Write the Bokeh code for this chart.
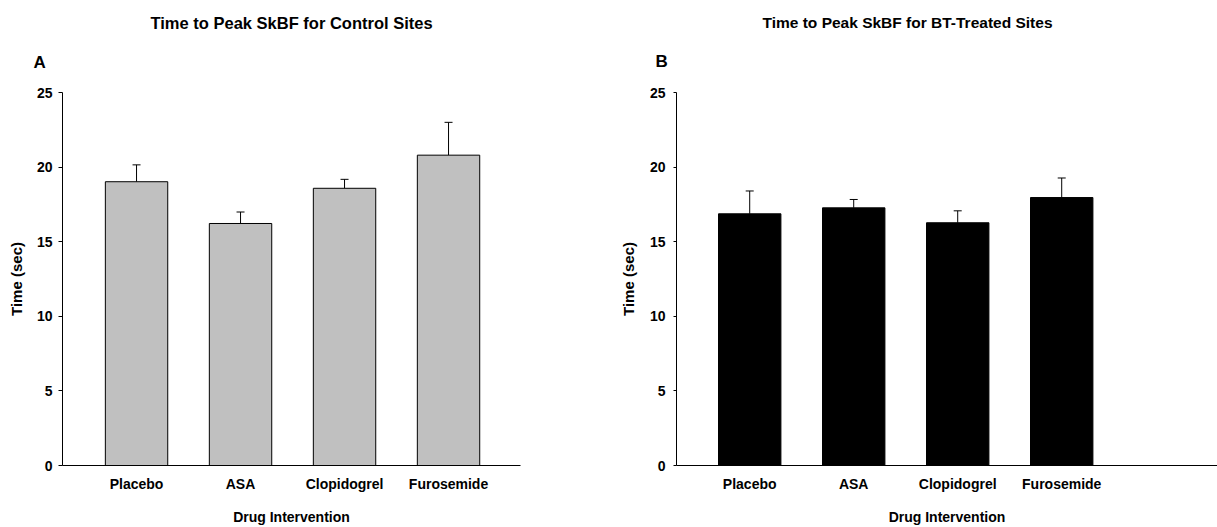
from bokeh.plotting import figure
from bokeh.models import Range1d, FixedTicker, Whisker, TeeHead, ColumnDataSource, Title
from bokeh.layouts import row
from bokeh.embed import file_html
from bokeh.resources import INLINE

drugs = ["Placebo", "ASA", "Clopidogrel", "Furosemide"]
control_mean = [19.02, 16.22, 18.58, 20.80]
control_err = [1.13, 0.77, 0.60, 2.20]
bt_mean = [16.87, 17.27, 16.27, 17.96]
bt_err = [1.53, 0.56, 0.80, 1.31]
y_ticks = [0, 5, 10, 15, 20, 25]

FONT = "Liberation Sans"


def make_panel(means, errs, fill, title, letter, width, xr, border_left, border_right,
               border_top, title_offset, title_standoff, title_size, letter_offset,
               letter_standoff, tick_out, tick_standoff, ylab_standoff):
    p = figure(width=width, height=527, x_range=Range1d(*xr), y_range=Range1d(0, 25),
               output_backend="svg", toolbar_location=None,
               min_border_left=border_left, min_border_right=border_right,
               min_border_top=border_top, min_border_bottom=60)
    p.outline_line_color = None
    p.xgrid.grid_line_color = None
    p.ygrid.grid_line_color = None
    p.background_fill_color = "white"
    p.border_fill_color = "white"

    x = list(range(len(drugs)))
    tops = [m + e for m, e in zip(means, errs)]
    src = ColumnDataSource(dict(x=x, m=means, top=tops))
    p.vbar(x="x", top="m", bottom=0, width=0.6, source=src, fill_color=fill,
           line_color="black", line_width=1)
    w = Whisker(base="x", lower="m", upper="top", source=src, line_color="black",
                line_width=1, upper_head=TeeHead(size=8, line_color="black", line_width=1),
                lower_head=None)
    p.add_layout(w)

    # x axis
    xa = p.xaxis[0]
    xa.ticker = FixedTicker(ticks=x)
    xa.major_label_overrides = {i: d for i, d in enumerate(drugs)}
    xa.major_tick_out = 0
    xa.major_tick_in = 0
    xa.minor_tick_out = 0
    xa.minor_tick_in = 0
    xa.major_label_standoff = 10
    xa.axis_label = "Drug Intervention"
    xa.axis_label_standoff = 14
    xa.axis_label_text_font = FONT
    xa.axis_label_text_font_style = "bold"
    xa.axis_label_text_font_size = "14px"
    xa.axis_label_text_color = "black"
    xa.major_label_text_font = FONT
    xa.major_label_text_font_style = "bold"
    xa.major_label_text_font_size = "14px"
    xa.major_label_text_color = "black"
    xa.axis_line_color = "black"

    # y axis
    ya = p.yaxis[0]
    ya.ticker = FixedTicker(ticks=y_ticks)
    ya.major_tick_out = tick_out
    ya.major_tick_in = 0
    ya.minor_tick_out = 0
    ya.minor_tick_in = 0
    ya.major_label_standoff = tick_standoff
    ya.axis_label = "Time (sec)"
    ya.axis_label_standoff = ylab_standoff
    ya.axis_label_text_font = FONT
    ya.axis_label_text_font_style = "bold"
    ya.axis_label_text_font_size = "15px"
    ya.axis_label_text_color = "black"
    ya.major_label_text_font = FONT
    ya.major_label_text_font_style = "bold"
    ya.major_label_text_font_size = "14px"
    ya.major_label_text_color = "black"
    ya.axis_line_color = "black"

    p.add_layout(Title(text=letter, align="left", offset=letter_offset,
                       vertical_align="middle",
                       standoff=letter_standoff, text_font=FONT, text_font_style="bold",
                       text_font_size="17px", text_color="black"), "above")
    p.add_layout(Title(text=title, align="left", offset=title_offset,
                       standoff=title_standoff, text_font=FONT, text_font_style="bold",
                       text_font_size=title_size, text_color="black"), "above")
    return p


p1 = make_panel(control_mean, control_err, "#c0c0c0", "Time to Peak SkBF for Control Sites", "A",
                608, (-0.712, 3.692), 62, 88, 90, 88, 0, "16.5px", -29, 40,
                4, 6, 9)
p2 = make_panel(bt_mean, bt_err, "black", "Time to Peak SkBF for BT-Treated Sites", "B",
                609, (-0.704, 4.498), 68, 0, 92, 86, 0, "15.5px", -21, 41,
                3, 8, 10)

layout = row(p1, p2, spacing=0)
open("out.html", "w").write(file_html(layout, INLINE))
